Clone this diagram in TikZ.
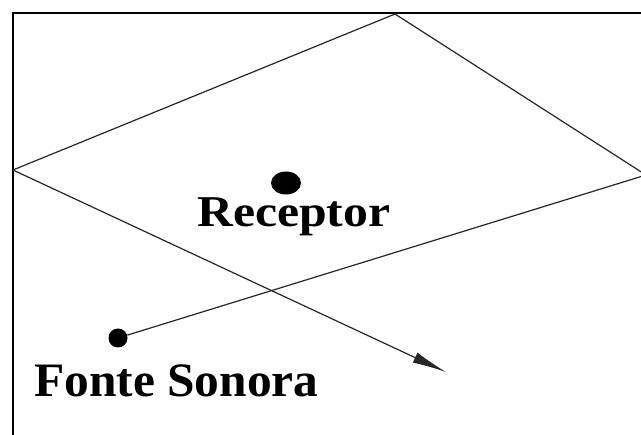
\documentclass[tikz,border=0pt]{standalone}
\usepackage{fontspec}
\setmainfont{Liberation Serif}
\usetikzlibrary{arrows.meta,shapes.geometric}
\begin{document}
\begin{tikzpicture}[x=1pt,y=-1pt,
  edge/.style={line width=1.2pt,black!85},
  lbl/.style={inner sep=0pt,anchor=base west,font=\bfseries}]
\useasboundingbox (0,0) rectangle (641,435);
\clip (0,0) rectangle (641,435);
\fill[white] (0,0) rectangle (641,435);
\draw[line width=2.6pt] (13,460) -- (13,13) -- (660,13);
\coordinate (L) at (13,170);
\coordinate (T) at (395,14);
\coordinate (R) at (646,175);
\coordinate (tip) at (446,372);
\node[fill=black,circle,inner sep=0pt,minimum size=19pt] (src) at (118,338) {};
\node[fill=black,ellipse,inner sep=0pt,minimum width=30pt,minimum height=23pt] (rec) at (286,183) {};
\draw[edge] (L) -- (T) -- (R);
\draw[edge] (src) -- (R);
\draw[edge,-{Latex[length=34pt,width=11pt]}] (L) -- (tip);
\node[lbl] (rtxt) at (197,227) {\fontsize{44}{50}\selectfont\scalebox{1.13}[1]{Receptor}};
\node[lbl] (ftxt) at (34,397) {\fontsize{48}{56}\selectfont\scalebox{1.03}[1]{Fonte Sonora}};
\end{tikzpicture}
\end{document}
